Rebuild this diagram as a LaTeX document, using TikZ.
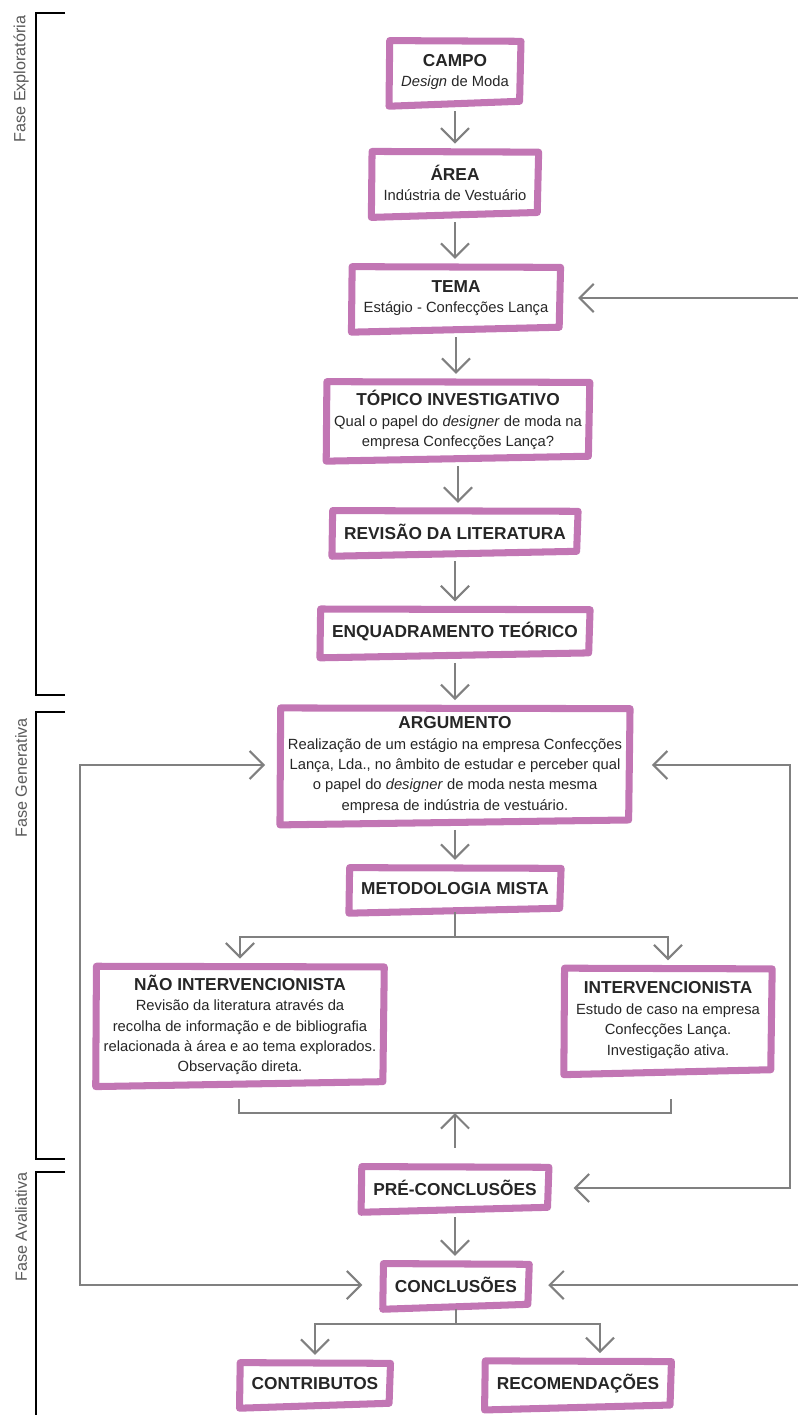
\documentclass[tikz,border=0pt]{standalone}
\usepackage{fontspec}
\setmainfont{Liberation Sans}
\usetikzlibrary{arrows.meta}
\definecolor{rosa}{RGB}{194,118,180}
\definecolor{cinza}{RGB}{128,128,128}
\newcommand{\titulo}[1]{{\fontsize{12.3}{15}\selectfont\bfseries #1}}

\begin{document}
\begin{tikzpicture}[x=0.025cm, y=-0.025cm,
    etapa/.style={align=center, inner xsep=7pt, inner ysep=8pt, minimum height=27pt, text=black!85, font=\fontsize{10.5}{14.5}\selectfont},
    longa/.style={inner xsep=4pt, inner ysep=4.5pt},
    pincel/.style={draw=rosa, line width=5pt, line join=round},
    seta/.style={draw=cinza, line width=1.5pt, ->, shorten >=7pt, shorten <=7pt},
    linha/.style={draw=cinza, line width=1.5pt},
    fase/.style={draw=black, line width=1.3pt},
    faselabel/.style={rotate=90, text=black!65, font=\fontsize{11.5}{14}\selectfont},
    >={Straight Barb[length=10pt, width=20pt]}
]
\useasboundingbox (0,0) rectangle (798,1415);

% brackets of the three phases
\draw[fase] (65,13) -- (36,13) -- (36,695) -- (65,695);
\draw[fase] (65,712) -- (36,712) -- (36,1159) -- (65,1159);
\draw[fase] (65,1172) -- (36,1172) -- (36,1415);
\node[faselabel] (fexp) at (21,79) {Fase Exploratória};
\node[faselabel] (fger) at (21,778) {Fase Generativa};
\node[faselabel] (fava) at (21,1227) {Fase Avaliativa};

% stages
\node[etapa] (campo) at (455,72) {\titulo{CAMPO}\\\textit{Design} de Moda};
\node[etapa] (area) at (455,183) {\titulo{ÁREA}\\Indústria de Vestuário};
\node[etapa] (tema) at (456,298) {\titulo{TEMA}\\Estágio - Confecções Lança};
\node[etapa, longa] (topico) at (458,420) {\titulo{TÓPICO INVESTIGATIVO}\\Qual o papel do \textit{designer} de moda na\\empresa Confecções Lança?};
\node[etapa] (revisao) at (455,532) {\titulo{REVISÃO DA LITERATURA}};
\node[etapa] (enquad) at (455,632) {\titulo{ENQUADRAMENTO TEÓRICO}};
\node[etapa, longa] (argumento) at (455,765) {\titulo{ARGUMENTO}\\Realização de um estágio na empresa Confecções\\Lança, Lda., no âmbito de estudar e perceber qual\\o papel do \textit{designer} de moda nesta mesma\\empresa de indústria de vestuário.};
\node[etapa] (metodo) at (455,889) {\titulo{METODOLOGIA MISTA}};
\node[etapa, longa] (naoint) at (240,1025) {\titulo{NÃO INTERVENCIONISTA}\\Revisão da literatura através da\\recolha de informação e de bibliografia\\relacionada à área e ao tema explorados.\\Observação direta.};
\node[etapa] (interv) at (668,1020) {\titulo{INTERVENCIONISTA}\\Estudo de caso na empresa\\Confecções Lança.\\Investigação ativa.};
\node[etapa] (precon) at (455,1188) {\titulo{PRÉ-CONCLUSÕES}};
\node[etapa] (concl) at (456,1285) {\titulo{CONCLUSÕES}};
\node[etapa] (contrib) at (315,1384) {\titulo{CONTRIBUTOS}};
\node[etapa] (recom) at (578,1384) {\titulo{RECOMENDAÇÕES}};

% brush frames
\foreach \n in {campo,area,tema,topico,revisao,enquad,argumento,metodo,naoint,interv,precon,concl,contrib,recom}
  \draw[pincel] ([shift={(-1pt,1.5pt)}]\n.north west) -- ([shift={(1.5pt,1pt)}]\n.north east)
    -- ([shift={(0.5pt,0pt)}]\n.south east) -- ([shift={(-1.5pt,-3.5pt)}]\n.south west) -- cycle;

% main line
\foreach \a/\b in {campo/area,area/tema,tema/topico,topico/revisao,revisao/enquad,enquad/argumento,argumento/metodo,precon/concl}
  \draw[seta] (\a.south) -- (\a.south |- \b.north);

% loops
\coordinate (dirT) at (798,298);
\coordinate (r1) at (790,765);
\coordinate (r2) at (790,1188);
\coordinate (l1) at (80,765);
\coordinate (l2) at (80,1285);
\coordinate (dirC) at (798,1285);
\draw[seta, shorten <=0pt, shorten >=14pt] (dirT) -- (tema.east);
\draw[seta, <->, shorten <=17pt, shorten >=19pt] (argumento.east) -- (r1) -- (r2) -- (precon.east);
\draw[seta, <->, shorten <=12pt, shorten >=16pt] (argumento.west) -- (l1) -- (l2) -- (concl.west);
\draw[seta, shorten <=0pt, shorten >=15pt] (dirC) -- (concl.east);

% split and merge
\coordinate (divM) at (455,937);
\draw[linha, shorten <=3pt] (metodo.south) -- (divM);
\draw[seta, shorten <=0pt] (divM) -| (naoint.north);
\draw[seta, shorten <=0pt] (divM) -| (interv.north);
\coordinate (junta) at (455,1113);
\coordinate (jE) at (239,1099);
\coordinate (jD) at (671,1099);
\draw[linha] (jE) |- (junta) -| (jD);
\draw[seta, shorten <=15pt, shorten >=0pt] (precon.north) -- (junta);
\coordinate (divC) at (456,1324);
\coordinate (divD) at (600,1324);
\draw[linha, shorten <=3pt] (concl.south) -- (divC);
\draw[seta, shorten <=0pt] (divC) -| (contrib.north);
\draw[seta, shorten <=0pt] (divC) -- (divD) -- (divD |- recom.north);

\end{tikzpicture}
\end{document}
